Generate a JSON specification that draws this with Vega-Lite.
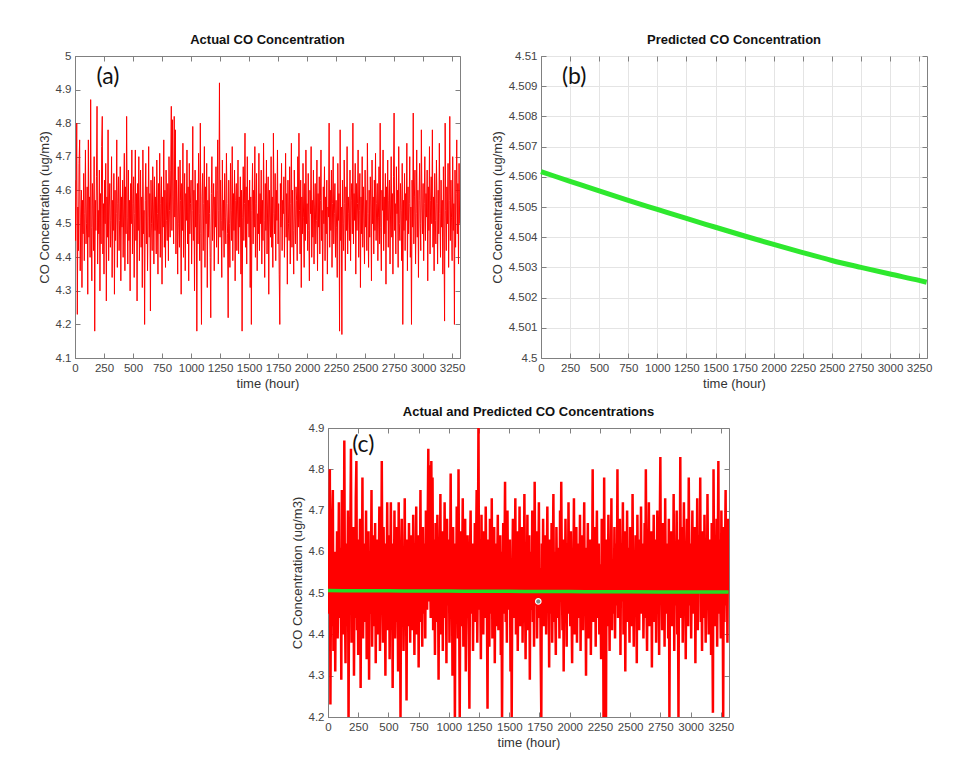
{
"$schema": "https://vega.github.io/schema/vega-lite/v6.json",
"padding": {"left": 37, "top": 33, "right": 5, "bottom": 5},
"background": "white",
"config": {
 "font": "Liberation Sans",
 "view": {"stroke": "#808080", "strokeWidth": 1},
 "axis": {"labelFont": "Liberation Sans", "labelFontSize": 11.5, "labelColor": "#444444", "titleFont": "Liberation Sans", "titleFontSize": 13, "titleFontWeight": "normal", "titleColor": "#333333", "domainColor": "#808080", "tickColor": "#808080", "tickSize": -5, "labelPadding": 9, "grid": false, "labelFlush": false, "labelOverlap": false},
 "title": {"font": "Liberation Sans", "fontSize": 13, "fontWeight": "bold", "color": "#111111", "offset": 3}
},
"datasets": {
"actual": [
{"t":0,"co":4.63},{"t":5,"co":4.45},{"t":10,"co":4.58},{"t":15,"co":4.80},{"t":20,"co":4.23},{"t":25,"co":4.55},{"t":30,"co":4.42},{"t":35,"co":4.68},{"t":40,"co":4.75},{"t":45,"co":4.36},{"t":50,"co":4.52},{"t":55,"co":4.60},{"t":60,"co":4.31},{"t":65,"co":4.57},{"t":70,"co":4.47},{"t":75,"co":4.65},{"t":80,"co":4.39},{"t":85,"co":4.53},{"t":90,"co":4.72},{"t":95,"co":4.44},
{"t":100,"co":4.50},{"t":105,"co":4.61},{"t":110,"co":4.29},{"t":115,"co":4.75},{"t":120,"co":4.46},{"t":125,"co":4.58},{"t":130,"co":4.40},{"t":135,"co":4.87},{"t":140,"co":4.49},{"t":145,"co":4.33},{"t":150,"co":4.62},{"t":155,"co":4.55},{"t":160,"co":4.42},{"t":165,"co":4.70},{"t":170,"co":4.18},{"t":175,"co":4.57},{"t":180,"co":4.48},{"t":185,"co":4.64},{"t":190,"co":4.85},{"t":195,"co":4.38},
{"t":200,"co":4.54},{"t":205,"co":4.47},{"t":210,"co":4.66},{"t":215,"co":4.30},{"t":220,"co":4.59},{"t":225,"co":4.44},{"t":230,"co":4.73},{"t":235,"co":4.82},{"t":240,"co":4.41},{"t":245,"co":4.56},{"t":250,"co":4.35},{"t":255,"co":4.63},{"t":260,"co":4.50},{"t":265,"co":4.68},{"t":270,"co":4.27},{"t":275,"co":4.58},{"t":280,"co":4.46},{"t":285,"co":4.78},{"t":290,"co":4.39},{"t":295,"co":4.55},
{"t":300,"co":4.62},{"t":305,"co":4.43},{"t":310,"co":4.51},{"t":315,"co":4.70},{"t":320,"co":4.34},{"t":325,"co":4.57},{"t":330,"co":4.48},{"t":335,"co":4.65},{"t":340,"co":4.29},{"t":345,"co":4.60},{"t":350,"co":4.45},{"t":355,"co":4.53},{"t":360,"co":4.75},{"t":365,"co":4.37},{"t":370,"co":4.56},{"t":375,"co":4.64},{"t":380,"co":4.42},{"t":385,"co":4.51},{"t":390,"co":4.67},{"t":395,"co":4.33},
{"t":400,"co":4.58},{"t":405,"co":4.49},{"t":410,"co":4.63},{"t":415,"co":4.40},{"t":420,"co":4.55},{"t":425,"co":4.71},{"t":430,"co":4.36},{"t":435,"co":4.61},{"t":440,"co":4.47},{"t":445,"co":4.82},{"t":450,"co":4.52},{"t":455,"co":4.38},{"t":460,"co":4.66},{"t":465,"co":4.45},{"t":470,"co":4.57},{"t":475,"co":4.30},{"t":480,"co":4.62},{"t":485,"co":4.50},{"t":490,"co":4.72},{"t":495,"co":4.41},
{"t":500,"co":4.56},{"t":505,"co":4.64},{"t":510,"co":4.34},{"t":515,"co":4.53},{"t":520,"co":4.72},{"t":525,"co":4.45},{"t":530,"co":4.59},{"t":535,"co":4.27},{"t":540,"co":4.62},{"t":545,"co":4.48},{"t":550,"co":4.70},{"t":555,"co":4.39},{"t":560,"co":4.55},{"t":565,"co":4.66},{"t":570,"co":4.43},{"t":575,"co":4.58},{"t":580,"co":4.31},{"t":585,"co":4.72},{"t":590,"co":4.47},{"t":595,"co":4.54},
{"t":600,"co":4.20},{"t":605,"co":4.57},{"t":610,"co":4.68},{"t":615,"co":4.44},{"t":620,"co":4.61},{"t":625,"co":4.36},{"t":630,"co":4.52},{"t":635,"co":4.73},{"t":640,"co":4.46},{"t":645,"co":4.59},{"t":650,"co":4.24},{"t":655,"co":4.63},{"t":660,"co":4.50},{"t":665,"co":4.42},{"t":670,"co":4.67},{"t":675,"co":4.55},{"t":680,"co":4.38},{"t":685,"co":4.64},{"t":690,"co":4.48},{"t":695,"co":4.58},
{"t":700,"co":4.41},{"t":705,"co":4.69},{"t":710,"co":4.53},{"t":715,"co":4.35},{"t":720,"co":4.62},{"t":725,"co":4.47},{"t":730,"co":4.71},{"t":735,"co":4.40},{"t":740,"co":4.56},{"t":745,"co":4.64},{"t":750,"co":4.32},{"t":755,"co":4.58},{"t":760,"co":4.49},{"t":765,"co":4.75},{"t":770,"co":4.43},{"t":775,"co":4.60},{"t":780,"co":4.37},{"t":785,"co":4.66},{"t":790,"co":4.51},{"t":795,"co":4.45},
{"t":800,"co":4.62},{"t":805,"co":4.39},{"t":810,"co":4.70},{"t":815,"co":4.54},{"t":820,"co":4.46},{"t":825,"co":4.66},{"t":830,"co":4.85},{"t":835,"co":4.48},{"t":840,"co":4.81},{"t":845,"co":4.58},{"t":850,"co":4.44},{"t":855,"co":4.82},{"t":860,"co":4.52},{"t":865,"co":4.78},{"t":870,"co":4.41},{"t":875,"co":4.63},{"t":880,"co":4.55},{"t":885,"co":4.35},{"t":890,"co":4.67},{"t":895,"co":4.50},
{"t":900,"co":4.43},{"t":905,"co":4.69},{"t":910,"co":4.57},{"t":915,"co":4.29},{"t":920,"co":4.62},{"t":925,"co":4.48},{"t":930,"co":4.74},{"t":935,"co":4.40},{"t":940,"co":4.55},{"t":945,"co":4.65},{"t":950,"co":4.36},{"t":955,"co":4.59},{"t":960,"co":4.51},{"t":965,"co":4.72},{"t":970,"co":4.44},{"t":975,"co":4.61},{"t":980,"co":4.33},{"t":985,"co":4.68},{"t":990,"co":4.47},{"t":995,"co":4.56},
{"t":1000,"co":4.63},{"t":1005,"co":4.38},{"t":1010,"co":4.54},{"t":1015,"co":4.79},{"t":1020,"co":4.45},{"t":1025,"co":4.60},{"t":1030,"co":4.30},{"t":1035,"co":4.66},{"t":1040,"co":4.49},{"t":1045,"co":4.57},{"t":1050,"co":4.18},{"t":1055,"co":4.62},{"t":1060,"co":4.44},{"t":1065,"co":4.71},{"t":1070,"co":4.53},{"t":1075,"co":4.39},{"t":1080,"co":4.80},{"t":1085,"co":4.47},{"t":1090,"co":4.20},{"t":1095,"co":4.58},
{"t":1100,"co":4.65},{"t":1105,"co":4.42},{"t":1110,"co":4.56},{"t":1115,"co":4.73},{"t":1120,"co":4.37},{"t":1125,"co":4.61},{"t":1130,"co":4.50},{"t":1135,"co":4.68},{"t":1140,"co":4.31},{"t":1145,"co":4.57},{"t":1150,"co":4.46},{"t":1155,"co":4.64},{"t":1160,"co":4.53},{"t":1165,"co":4.40},{"t":1170,"co":4.22},{"t":1175,"co":4.59},{"t":1180,"co":4.70},{"t":1185,"co":4.45},{"t":1190,"co":4.55},{"t":1195,"co":4.62},
{"t":1200,"co":4.36},{"t":1205,"co":4.58},{"t":1210,"co":4.49},{"t":1215,"co":4.67},{"t":1220,"co":4.43},{"t":1225,"co":4.60},{"t":1230,"co":4.75},{"t":1235,"co":4.38},{"t":1240,"co":4.54},{"t":1245,"co":4.92},{"t":1250,"co":4.46},{"t":1255,"co":4.63},{"t":1260,"co":4.51},{"t":1265,"co":4.34},{"t":1270,"co":4.69},{"t":1275,"co":4.48},{"t":1280,"co":4.57},{"t":1285,"co":4.40},{"t":1290,"co":4.65},{"t":1295,"co":4.52},
{"t":1300,"co":4.44},{"t":1305,"co":4.71},{"t":1310,"co":4.56},{"t":1315,"co":4.47},{"t":1320,"co":4.22},{"t":1325,"co":4.63},{"t":1330,"co":4.50},{"t":1335,"co":4.37},{"t":1340,"co":4.68},{"t":1345,"co":4.54},{"t":1350,"co":4.45},{"t":1355,"co":4.73},{"t":1360,"co":4.39},{"t":1365,"co":4.59},{"t":1370,"co":4.48},{"t":1375,"co":4.66},{"t":1380,"co":4.33},{"t":1385,"co":4.57},{"t":1390,"co":4.62},{"t":1395,"co":4.42},
{"t":1400,"co":4.55},{"t":1405,"co":4.69},{"t":1410,"co":4.41},{"t":1415,"co":4.58},{"t":1420,"co":4.49},{"t":1425,"co":4.64},{"t":1430,"co":4.35},{"t":1435,"co":4.60},{"t":1440,"co":4.18},{"t":1445,"co":4.52},{"t":1450,"co":4.67},{"t":1455,"co":4.45},{"t":1460,"co":4.56},{"t":1465,"co":4.77},{"t":1470,"co":4.43},{"t":1475,"co":4.61},{"t":1480,"co":4.38},{"t":1485,"co":4.70},{"t":1490,"co":4.50},{"t":1495,"co":4.57},
{"t":1500,"co":4.46},{"t":1505,"co":4.63},{"t":1510,"co":4.31},{"t":1515,"co":4.58},{"t":1520,"co":4.20},{"t":1525,"co":4.54},{"t":1530,"co":4.68},{"t":1535,"co":4.44},{"t":1540,"co":4.60},{"t":1545,"co":4.49},{"t":1550,"co":4.73},{"t":1555,"co":4.40},{"t":1560,"co":4.56},{"t":1565,"co":4.65},{"t":1570,"co":4.36},{"t":1575,"co":4.53},{"t":1580,"co":4.47},{"t":1585,"co":4.71},{"t":1590,"co":4.42},{"t":1595,"co":4.59},
{"t":1600,"co":4.50},{"t":1605,"co":4.66},{"t":1610,"co":4.38},{"t":1615,"co":4.57},{"t":1620,"co":4.45},{"t":1625,"co":4.74},{"t":1630,"co":4.51},{"t":1635,"co":4.34},{"t":1640,"co":4.62},{"t":1645,"co":4.48},{"t":1650,"co":4.69},{"t":1655,"co":4.41},{"t":1660,"co":4.55},{"t":1665,"co":4.64},{"t":1670,"co":4.29},{"t":1675,"co":4.60},{"t":1680,"co":4.52},{"t":1685,"co":4.46},{"t":1690,"co":4.70},{"t":1695,"co":4.43},
{"t":1700,"co":4.58},{"t":1705,"co":4.37},{"t":1710,"co":4.77},{"t":1715,"co":4.53},{"t":1720,"co":4.47},{"t":1725,"co":4.65},{"t":1730,"co":4.39},{"t":1735,"co":4.60},{"t":1740,"co":4.51},{"t":1745,"co":4.72},{"t":1750,"co":4.44},{"t":1755,"co":4.56},{"t":1760,"co":4.35},{"t":1765,"co":4.20},{"t":1770,"co":4.62},{"t":1775,"co":4.49},{"t":1780,"co":4.68},{"t":1785,"co":4.42},{"t":1790,"co":4.57},{"t":1795,"co":4.53},
{"t":1800,"co":4.64},{"t":1805,"co":4.40},{"t":1810,"co":4.55},{"t":1815,"co":4.71},{"t":1820,"co":4.46},{"t":1825,"co":4.59},{"t":1830,"co":4.32},{"t":1835,"co":4.63},{"t":1840,"co":4.50},{"t":1845,"co":4.45},{"t":1850,"co":4.67},{"t":1855,"co":4.38},{"t":1860,"co":4.56},{"t":1865,"co":4.74},{"t":1870,"co":4.43},{"t":1875,"co":4.60},{"t":1880,"co":4.48},{"t":1885,"co":4.35},{"t":1890,"co":4.66},{"t":1895,"co":4.52},
{"t":1900,"co":4.44},{"t":1905,"co":4.61},{"t":1910,"co":4.57},{"t":1915,"co":4.39},{"t":1920,"co":4.70},{"t":1925,"co":4.49},{"t":1930,"co":4.77},{"t":1935,"co":4.54},{"t":1940,"co":4.41},{"t":1945,"co":4.63},{"t":1950,"co":4.31},{"t":1955,"co":4.58},{"t":1960,"co":4.47},{"t":1965,"co":4.68},{"t":1970,"co":4.52},{"t":1975,"co":4.37},{"t":1980,"co":4.62},{"t":1985,"co":4.45},{"t":1990,"co":4.72},{"t":1995,"co":4.50},
{"t":2000,"co":4.56},{"t":2005,"co":4.42},{"t":2010,"co":4.65},{"t":2015,"co":4.48},{"t":2020,"co":4.33},{"t":2025,"co":4.60},{"t":2030,"co":4.53},{"t":2035,"co":4.73},{"t":2040,"co":4.40},{"t":2045,"co":4.57},{"t":2050,"co":4.46},{"t":2055,"co":4.66},{"t":2060,"co":4.38},{"t":2065,"co":4.55},{"t":2070,"co":4.62},{"t":2075,"co":4.44},{"t":2080,"co":4.51},{"t":2085,"co":4.69},{"t":2090,"co":4.36},{"t":2095,"co":4.59},
{"t":2100,"co":4.49},{"t":2105,"co":4.64},{"t":2110,"co":4.41},{"t":2115,"co":4.57},{"t":2120,"co":4.72},{"t":2125,"co":4.45},{"t":2130,"co":4.54},{"t":2135,"co":4.30},{"t":2140,"co":4.61},{"t":2145,"co":4.50},{"t":2150,"co":4.67},{"t":2155,"co":4.39},{"t":2160,"co":4.58},{"t":2165,"co":4.47},{"t":2170,"co":4.63},{"t":2175,"co":4.35},{"t":2180,"co":4.55},{"t":2185,"co":4.52},{"t":2190,"co":4.80},{"t":2195,"co":4.43},
{"t":2200,"co":4.60},{"t":2205,"co":4.48},{"t":2210,"co":4.66},{"t":2215,"co":4.37},{"t":2220,"co":4.56},{"t":2225,"co":4.70},{"t":2230,"co":4.44},{"t":2235,"co":4.53},{"t":2240,"co":4.62},{"t":2245,"co":4.40},{"t":2250,"co":4.57},{"t":2255,"co":4.49},{"t":2260,"co":4.34},{"t":2265,"co":4.68},{"t":2270,"co":4.51},{"t":2275,"co":4.59},{"t":2280,"co":4.18},{"t":2285,"co":4.78},{"t":2290,"co":4.45},{"t":2295,"co":4.55},
{"t":2300,"co":4.17},{"t":2305,"co":4.63},{"t":2310,"co":4.50},{"t":2315,"co":4.42},{"t":2320,"co":4.69},{"t":2325,"co":4.56},{"t":2330,"co":4.36},{"t":2335,"co":4.61},{"t":2340,"co":4.48},{"t":2345,"co":4.73},{"t":2350,"co":4.41},{"t":2355,"co":4.58},{"t":2360,"co":4.53},{"t":2365,"co":4.45},{"t":2370,"co":4.66},{"t":2375,"co":4.39},{"t":2380,"co":4.57},{"t":2385,"co":4.62},{"t":2390,"co":4.47},{"t":2395,"co":4.80},
{"t":2400,"co":4.44},{"t":2405,"co":4.59},{"t":2410,"co":4.51},{"t":2415,"co":4.68},{"t":2420,"co":4.35},{"t":2425,"co":4.62},{"t":2430,"co":4.48},{"t":2435,"co":4.56},{"t":2440,"co":4.72},{"t":2445,"co":4.40},{"t":2450,"co":4.54},{"t":2455,"co":4.65},{"t":2460,"co":4.31},{"t":2465,"co":4.58},{"t":2470,"co":4.47},{"t":2475,"co":4.70},{"t":2480,"co":4.43},{"t":2485,"co":4.61},{"t":2490,"co":4.52},{"t":2495,"co":4.38},
{"t":2500,"co":4.66},{"t":2505,"co":4.49},{"t":2510,"co":4.57},{"t":2515,"co":4.42},{"t":2520,"co":4.74},{"t":2525,"co":4.53},{"t":2530,"co":4.37},{"t":2535,"co":4.60},{"t":2540,"co":4.46},{"t":2545,"co":4.64},{"t":2550,"co":4.55},{"t":2555,"co":4.33},{"t":2560,"co":4.69},{"t":2565,"co":4.50},{"t":2570,"co":4.58},{"t":2575,"co":4.41},{"t":2580,"co":4.63},{"t":2585,"co":4.48},{"t":2590,"co":4.71},{"t":2595,"co":4.45},
{"t":2600,"co":4.56},{"t":2605,"co":4.62},{"t":2610,"co":4.39},{"t":2615,"co":4.52},{"t":2620,"co":4.67},{"t":2625,"co":4.44},{"t":2630,"co":4.80},{"t":2635,"co":4.49},{"t":2640,"co":4.36},{"t":2645,"co":4.60},{"t":2650,"co":4.54},{"t":2655,"co":4.72},{"t":2660,"co":4.42},{"t":2665,"co":4.58},{"t":2670,"co":4.47},{"t":2675,"co":4.65},{"t":2680,"co":4.32},{"t":2685,"co":4.61},{"t":2690,"co":4.51},{"t":2695,"co":4.69},
{"t":2700,"co":4.43},{"t":2705,"co":4.57},{"t":2710,"co":4.63},{"t":2715,"co":4.38},{"t":2720,"co":4.55},{"t":2725,"co":4.70},{"t":2730,"co":4.46},{"t":2735,"co":4.59},{"t":2740,"co":4.35},{"t":2745,"co":4.64},{"t":2750,"co":4.83},{"t":2755,"co":4.48},{"t":2760,"co":4.56},{"t":2765,"co":4.41},{"t":2770,"co":4.67},{"t":2775,"co":4.53},{"t":2780,"co":4.60},{"t":2785,"co":4.37},{"t":2790,"co":4.73},{"t":2795,"co":4.50},
{"t":2800,"co":4.45},{"t":2805,"co":4.62},{"t":2810,"co":4.54},{"t":2815,"co":4.39},{"t":2820,"co":4.68},{"t":2825,"co":4.20},{"t":2830,"co":4.57},{"t":2835,"co":4.48},{"t":2840,"co":4.65},{"t":2845,"co":4.42},{"t":2850,"co":4.59},{"t":2855,"co":4.51},{"t":2860,"co":4.74},{"t":2865,"co":4.36},{"t":2870,"co":4.61},{"t":2875,"co":4.47},{"t":2880,"co":4.56},{"t":2885,"co":4.70},{"t":2890,"co":4.40},{"t":2895,"co":4.55},
{"t":2900,"co":4.20},{"t":2905,"co":4.63},{"t":2910,"co":4.49},{"t":2915,"co":4.83},{"t":2920,"co":4.44},{"t":2925,"co":4.58},{"t":2930,"co":4.66},{"t":2935,"co":4.38},{"t":2940,"co":4.53},{"t":2945,"co":4.72},{"t":2950,"co":4.46},{"t":2955,"co":4.60},{"t":2960,"co":4.34},{"t":2965,"co":4.57},{"t":2970,"co":4.68},{"t":2975,"co":4.50},{"t":2980,"co":4.42},{"t":2985,"co":4.78},{"t":2990,"co":4.55},{"t":2995,"co":4.47},
{"t":3000,"co":4.62},{"t":3005,"co":4.39},{"t":3010,"co":4.56},{"t":3015,"co":4.70},{"t":3020,"co":4.45},{"t":3025,"co":4.59},{"t":3030,"co":4.52},{"t":3035,"co":4.66},{"t":3040,"co":4.33},{"t":3045,"co":4.61},{"t":3050,"co":4.48},{"t":3055,"co":4.73},{"t":3060,"co":4.41},{"t":3065,"co":4.57},{"t":3070,"co":4.64},{"t":3075,"co":4.50},{"t":3080,"co":4.78},{"t":3085,"co":4.43},{"t":3090,"co":4.58},{"t":3095,"co":4.36},
{"t":3100,"co":4.65},{"t":3105,"co":4.51},{"t":3110,"co":4.44},{"t":3115,"co":4.69},{"t":3120,"co":4.56},{"t":3125,"co":4.38},{"t":3130,"co":4.60},{"t":3135,"co":4.47},{"t":3140,"co":4.74},{"t":3145,"co":4.53},{"t":3150,"co":4.40},{"t":3155,"co":4.63},{"t":3160,"co":4.49},{"t":3165,"co":4.57},{"t":3170,"co":4.35},{"t":3175,"co":4.67},{"t":3180,"co":4.46},{"t":3185,"co":4.21},{"t":3190,"co":4.80},{"t":3195,"co":4.54},
{"t":3200,"co":4.42},{"t":3205,"co":4.61},{"t":3210,"co":4.50},{"t":3215,"co":4.68},{"t":3220,"co":4.37},{"t":3225,"co":4.57},{"t":3230,"co":4.82},{"t":3235,"co":4.45},{"t":3240,"co":4.63},{"t":3245,"co":4.52},{"t":3250,"co":4.39},{"t":3255,"co":4.70},{"t":3260,"co":4.48},{"t":3265,"co":4.56},{"t":3270,"co":4.20},{"t":3275,"co":4.66},{"t":3280,"co":4.43},{"t":3285,"co":4.59},{"t":3290,"co":4.75},{"t":3295,"co":4.47},
{"t":3300,"co":4.62},{"t":3305,"co":4.38},{"t":3310,"co":4.68},{"t":3315,"co":4.50}
],
"pred": [
{"t":0,"co":4.50617},{"t":250,"co":4.50585},{"t":500,"co":4.50553},{"t":750,"co":4.50522},{"t":1000,"co":4.50492},{"t":1250,"co":4.50462},{"t":1500,"co":4.50433},{"t":1750,"co":4.50404},{"t":2000,"co":4.50376},{"t":2250,"co":4.50349},{"t":2500,"co":4.50323},{"t":2750,"co":4.50300},{"t":3000,"co":4.50278},{"t":3250,"co":4.50257},{"t":3315,"co":4.50251}
]
},
"vconcat": [
 {
  "hconcat": [
   {
    "width": 385, "height": 302,
    "title": "Actual CO Concentration",
    "resolve": {"axis": {"x": "independent", "y": "independent"}},
    "layer": [
     {
      "data": {"name": "actual"},
      "mark": {"type": "line", "color": "#ff0000", "strokeWidth": 1, "clip": true},
      "encoding": {
       "x": {"field": "t", "type": "quantitative", "scale": {"domain": [0, 3318], "nice": false, "zero": false}, "axis": {"values": [0,250,500,750,1000,1250,1500,1750,2000,2250,2500,2750,3000,3250], "format": "d", "title": "time (hour)"}},
       "y": {"field": "co", "type": "quantitative", "scale": {"domain": [4.1, 5], "nice": false, "zero": false}, "axis": {"values": [4.1,4.2,4.3,4.4,4.5,4.6,4.7,4.8,4.9,5], "format": ".1~f", "title": "CO Concentration (ug/m3)"}}
      }
     },
     {
      "data": {"values": [{"label": "(a)", "t": 185, "co": 4.917}]},
      "mark": {"type": "text", "font": "Lato", "fontSize": 23, "align": "left", "baseline": "alphabetic", "color": "#111111"},
      "encoding": {
       "x": {"field": "t", "type": "quantitative", "scale": {"domain": [0, 3318], "nice": false, "zero": false}, "axis": {"orient": "top", "values": [0,250,500,750,1000,1250,1500,1750,2000,2250,2500,2750,3000,3250], "labels": false, "title": null, "domain": false}},
       "y": {"field": "co", "type": "quantitative", "scale": {"domain": [4.1, 5], "nice": false, "zero": false}, "axis": {"orient": "right", "values": [4.1,4.2,4.3,4.4,4.5,4.6,4.7,4.8,4.9,5], "labels": false, "title": null, "domain": false}},
       "text": {"field": "label"}
      }
     }
    ]
   },
   {
    "width": 386, "height": 302,
    "title": "Predicted CO Concentration",
    "resolve": {"axis": {"x": "independent", "y": "independent"}},
    "layer": [
     {
      "data": {"name": "pred"},
      "mark": {"type": "line", "color": "#2ee82e", "strokeWidth": 5, "interpolate": "monotone"},
      "encoding": {
       "x": {"field": "t", "type": "quantitative", "scale": {"domain": [0, 3318], "nice": false, "zero": false}, "axis": {"values": [0,250,500,750,1000,1250,1500,1750,2000,2250,2500,2750,3000,3250], "format": "d", "title": "time (hour)", "grid": true, "gridColor": "#e4e4e4"}},
       "y": {"field": "co", "type": "quantitative", "scale": {"domain": [4.5, 4.51], "nice": false, "zero": false}, "axis": {"values": [4.5,4.501,4.502,4.503,4.504,4.505,4.506,4.507,4.508,4.509,4.51], "format": ".3~f", "title": "CO Concentration (ug/m3)", "grid": true, "gridColor": "#e4e4e4"}}
      }
     },
     {
      "data": {"values": [{"label": "(b)", "t": 180, "co": 4.50907}]},
      "mark": {"type": "text", "font": "Lato", "fontSize": 23, "align": "left", "baseline": "alphabetic", "color": "#111111"},
      "encoding": {
       "x": {"field": "t", "type": "quantitative", "scale": {"domain": [0, 3318], "nice": false, "zero": false}, "axis": {"orient": "top", "values": [0,250,500,750,1000,1250,1500,1750,2000,2250,2500,2750,3000,3250], "labels": false, "title": null, "domain": false}},
       "y": {"field": "co", "type": "quantitative", "scale": {"domain": [4.5, 4.51], "nice": false, "zero": false}, "axis": {"orient": "right", "values": [4.5,4.501,4.502,4.503,4.504,4.505,4.506,4.507,4.508,4.509,4.51], "labels": false, "title": null, "domain": false}},
       "text": {"field": "label"}
      }
     }
    ]
   }
  ],
  "spacing": 24
 },
 {
  "hconcat": [
   {
    "width": 215, "height": 10,
    "view": {"stroke": null},
    "data": {"values": [{"s": 0}]},
    "mark": {"type": "point", "opacity": 0},
    "encoding": {}
   },
   {
    "width": 401, "height": 289,
    "title": "Actual and Predicted CO Concentrations",
    "resolve": {"axis": {"x": "independent", "y": "independent"}},
    "layer": [
     {
      "data": {"name": "actual"},
      "mark": {"type": "line", "color": "#ff0000", "strokeWidth": 2.5, "clip": true},
      "encoding": {
       "x": {"field": "t", "type": "quantitative", "scale": {"domain": [0, 3318], "nice": false, "zero": false}, "axis": {"values": [0,250,500,750,1000,1250,1500,1750,2000,2250,2500,2750,3000,3250], "format": "d", "title": "time (hour)"}},
       "y": {"field": "co", "type": "quantitative", "scale": {"domain": [4.2, 4.9], "nice": false, "zero": false}, "axis": {"values": [4.2,4.3,4.4,4.5,4.6,4.7,4.8,4.9], "format": ".1f", "title": "CO Concentration (ug/m3)"}}
      }
     },
     {
      "data": {"name": "pred"},
      "mark": {"type": "line", "color": "#22dd22", "strokeWidth": 3.5, "interpolate": "monotone"},
      "encoding": {"x": {"field": "t", "type": "quantitative", "axis": null}, "y": {"field": "co", "type": "quantitative", "axis": null}}
     },
     {
      "data": {"values": [{"t": 1740, "co": 4.48}]},
      "mark": {"type": "point", "filled": true, "color": "#7a8a8a", "stroke": "#ffffff", "strokeWidth": 1.2, "size": 30, "opacity": 1},
      "encoding": {"x": {"field": "t", "type": "quantitative", "axis": null}, "y": {"field": "co", "type": "quantitative", "axis": null}}
     },
     {
      "data": {"values": [{"label": "(c)", "t": 200, "co": 4.842}]},
      "mark": {"type": "text", "font": "Lato", "fontSize": 23, "align": "left", "baseline": "alphabetic", "color": "#111111"},
      "encoding": {
       "x": {"field": "t", "type": "quantitative", "scale": {"domain": [0, 3318], "nice": false, "zero": false}, "axis": {"orient": "top", "values": [0,250,500,750,1000,1250,1500,1750,2000,2250,2500,2750,3000,3250], "labels": false, "title": null, "domain": false}},
       "y": {"field": "co", "type": "quantitative", "scale": {"domain": [4.2, 4.9], "nice": false, "zero": false}, "axis": {"orient": "right", "values": [4.2,4.3,4.4,4.5,4.6,4.7,4.8,4.9], "labels": false, "title": null, "domain": false}},
       "text": {"field": "label"}
      }
     }
    ]
   }
  ],
  "spacing": 0
 }
],
"spacing": 14
}
